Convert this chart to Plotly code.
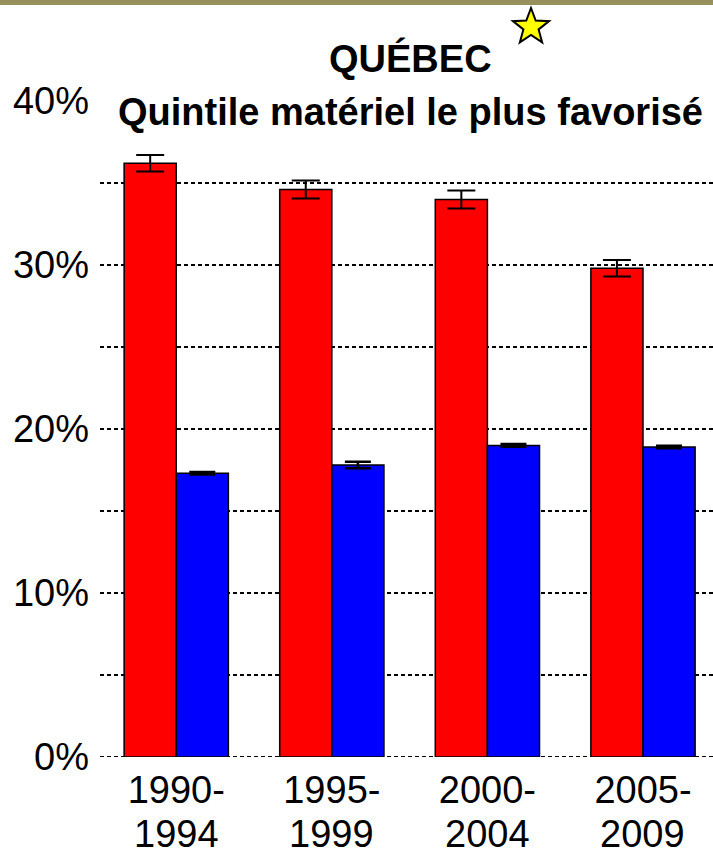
import math
import plotly.graph_objects as go

periods = ["1990-1994", "1995-1999", "2000-2004", "2005-2009"]
red_vals = [36.2, 34.6, 34.0, 29.8]
red_err = [0.5, 0.55, 0.55, 0.5]
blue_vals = [17.3, 17.8, 19.0, 18.9]
blue_err = [0.08, 0.2, 0.08, 0.08]
y_ticks = [0, 10, 20, 30, 40]
grid_vals = [0, 5, 10, 15, 20, 25, 30, 35]

FONT = "Liberation Sans, Arial, sans-serif"
FS = 38
W, H = 713, 848
ML, MR, MT, MB = 100, 0, 101, 91
ph = H - MT - MB


def py(pix):
    # pixel row -> paper y
    return (H - MB - pix) / ph


def px(pix):
    return (pix - ML) / (W - ML - MR)


x = list(range(len(periods)))
fig = go.Figure()
fig.add_trace(go.Bar(x=x, y=red_vals, marker=dict(color="#FF0000", line=dict(color="black", width=1.5)),
                     error_y=dict(type="data", array=red_err, color="black", thickness=2, width=14)))
fig.add_trace(go.Bar(x=x, y=blue_vals, marker=dict(color="#0000FF", line=dict(color="black", width=1.5)),
                     error_y=dict(type="data", array=blue_err, color="black", thickness=2.5, width=13)))

shapes = []
for g in grid_vals:
    shapes.append(dict(type="line", xref="paper", yref="y", x0=0, x1=1, y0=g, y1=g, layer="below",
                       line=dict(color="black", width=2, dash="4px,3px")))
# top border
shapes.append(dict(type="rect", xref="paper", yref="paper", x0=-0.2, x1=1.1, y0=py(5), y1=py(-3),
                   fillcolor="#978F5C", line=dict(width=0)))
# star
pts = []
for i in range(10):
    r = 19 if i % 2 == 0 else 8
    a = math.pi / 2 + i * math.pi / 5
    pts.append((r * math.cos(a), r * math.sin(a)))
path = "M " + " L ".join(f"{a:.2f},{b:.2f}" for a, b in pts) + " Z"
shapes.append(dict(type="path", xref="paper", yref="paper", xsizemode="pixel", ysizemode="pixel",
                   xanchor=px(531), yanchor=py(27), path=path,
                   fillcolor="#FFFF00", line=dict(color="black", width=2)))

annotations = [
    dict(text="<b>QUÉBEC</b>", xref="paper", yref="paper", x=px(410), y=py(58),
         showarrow=False, font=dict(family=FONT, size=FS, color="black"), yanchor="middle"),
    dict(text="<b>Quintile matériel le plus favorisé</b>", xref="paper", yref="paper",
         x=px(410), y=py(112), showarrow=False, bgcolor="white",
         font=dict(family=FONT, size=FS, color="black"), yanchor="middle"),
]
for i, p in enumerate(periods):
    annotations.append(dict(text=p.split("-")[1], xref="x", yref="paper", x=i, y=py(834),
                            showarrow=False, yanchor="middle",
                            font=dict(family=FONT, size=FS, color="black")))

fig.update_layout(
    width=W, height=H, margin=dict(l=ML, r=MR, t=MT, b=MB),
    paper_bgcolor="white", plot_bgcolor="white",
    barmode="group", bargap=0.33, bargroupgap=0, showlegend=False,
    shapes=shapes, annotations=annotations,
    font=dict(family=FONT, size=FS, color="black"),
)
fig.update_xaxes(range=[-0.49, 3.45], tickvals=x, ticktext=[p.split("-")[0] + "-" for p in periods],
                 showgrid=False, zeroline=False, showline=False, ticks="", automargin=False,
                 ticklabelstandoff=7, tickfont=dict(family=FONT, size=FS, color="black"))
fig.update_yaxes(range=[0, 40], tickvals=y_ticks, ticktext=[f"{v}%" for v in y_ticks],
                 showgrid=False, zeroline=False, showline=False, ticks="", automargin=False,
                 ticklabelstandoff=10, tickfont=dict(family=FONT, size=FS, color="black"))

fig.write_html("out.html", config={"displayModeBar": False},
               post_script="document.body.style.margin='0px';")
